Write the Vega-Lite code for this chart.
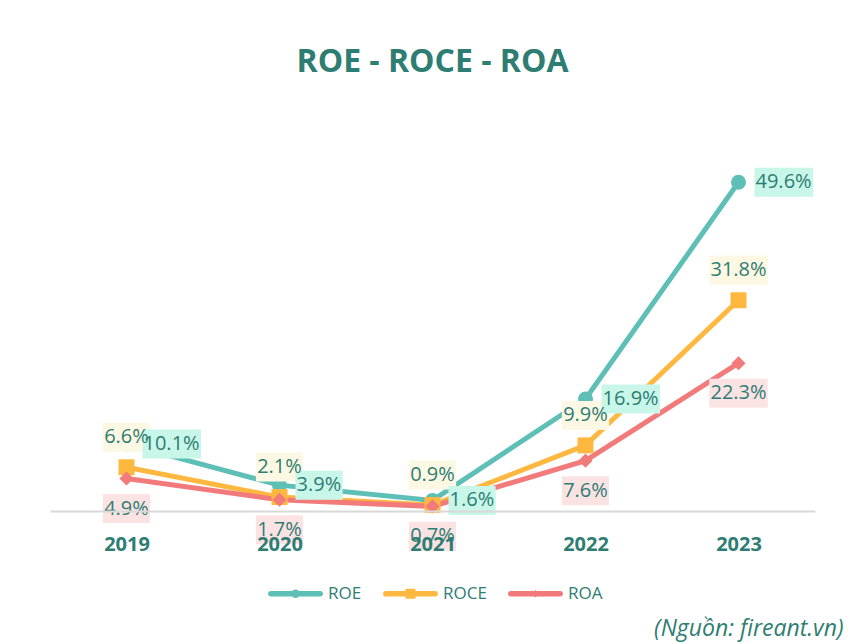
{
  "$schema": "https://vega.github.io/schema/vega-lite/v6.json",
  "width": 765,
  "height": 391,
  "autosize": "none",
  "padding": {"left": 50, "top": 120, "right": 35, "bottom": 133},
  "background": "#ffffff",
  "title": {
    "text": "ROE - ROCE - ROA",
    "font": "Open Sans",
    "fontSize": 32,
    "fontWeight": "bold",
    "color": "#2E7D73",
    "anchor": "middle",
    "baseline": "alphabetic",
    "offset": 16
  },
  "data": {
    "values": [
      {"year": "2019", "series": "ROCE", "value": 6.6},
      {"year": "2020", "series": "ROCE", "value": 2.1},
      {"year": "2021", "series": "ROCE", "value": 0.9},
      {"year": "2022", "series": "ROCE", "value": 9.9},
      {"year": "2023", "series": "ROCE", "value": 31.8},
      {"year": "2019", "series": "ROA", "value": 4.9},
      {"year": "2020", "series": "ROA", "value": 1.7},
      {"year": "2021", "series": "ROA", "value": 0.7},
      {"year": "2022", "series": "ROA", "value": 7.6},
      {"year": "2023", "series": "ROA", "value": 22.3},
      {"year": "2019", "series": "ROE", "value": 10.1},
      {"year": "2020", "series": "ROE", "value": 3.9},
      {"year": "2021", "series": "ROE", "value": 1.6},
      {"year": "2022", "series": "ROE", "value": 16.9},
      {"year": "2023", "series": "ROE", "value": 49.6}
    ]
  },
  "transform": [
    {"calculate": "format(datum.value, '.1f') + '%'", "as": "label"}
  ],
  "encoding": {
    "x": {
      "field": "year",
      "type": "ordinal",
      "scale": {"type": "point", "padding": 0.5},
      "axis": {
        "zindex": 1,
        "labelFont": "Open Sans",
        "labelFontWeight": "bold",
        "labelFontSize": 20,
        "labelColor": "#2E7D73",
        "labelAngle": 0,
        "labelBaseline": "alphabetic",
        "labelPadding": 39,
        "ticks": false,
        "tickSize": 0,
        "grid": false,
        "domainColor": "#D9D9D9",
        "domainWidth": 2,
        "title": "(Nguồn: fireant.vn)",
        "titleFont": "Open Sans",
        "titleFontStyle": "italic",
        "titleFontWeight": "normal",
        "titleFontSize": 23,
        "titleColor": "#2E7D73",
        "titleAlign": "right",
        "titleBaseline": "alphabetic",
        "titleX": 793,
        "titleY": 124
      }
    },
    "y": {
      "field": "value",
      "type": "quantitative",
      "scale": {"domain": [0, 59], "nice": false, "zero": true},
      "axis": null
    }
  },
  "layer": [
    {
      "mark": {"type": "line", "strokeWidth": 5},
      "encoding": {
        "color": {
          "field": "series",
          "type": "nominal",
          "scale": {"domain": ["ROE", "ROCE", "ROA"], "range": ["#5DBFB5", "#FFB83F", "#F27A7A"]},
          "legend": {
            "orient": "none",
            "legendX": 218,
            "legendY": 446,
            "direction": "horizontal",
            "title": null,
            "padding": 0,
            "symbolSize": 3025,
            "labelFont": "Open Sans",
            "labelFontSize": 17,
            "labelColor": "#2E7D73",
            "labelOffset": 5,
            "columnPadding": 21,
            "encode": {
              "symbols": {
                "update": {
                  "shape": {"signal": "datum.value === 'ROE' ? 'M-0.9,-0.1H0.9V0.1H-0.9Z M-1,0A0.1,0.1 0 1,1 -0.8,0A0.1,0.1 0 1,1 -1,0Z M0.8,0A0.1,0.1 0 1,1 1,0A0.1,0.1 0 1,1 0.8,0Z M-0.155,0A0.155,0.155 0 1,1 0.155,0A0.155,0.155 0 1,1 -0.155,0Z' : datum.value === 'ROCE' ? 'M-0.9,-0.1H0.9V0.1H-0.9Z M-1,0A0.1,0.1 0 1,1 -0.8,0A0.1,0.1 0 1,1 -1,0Z M0.8,0A0.1,0.1 0 1,1 1,0A0.1,0.1 0 1,1 0.8,0Z M-0.18,-0.18H0.18V0.18H-0.18Z' : 'M-0.9,-0.1H0.9V0.1H-0.9Z M-1,0A0.1,0.1 0 1,1 -0.8,0A0.1,0.1 0 1,1 -1,0Z M0.8,0A0.1,0.1 0 1,1 1,0A0.1,0.1 0 1,1 0.8,0Z M0,-0.14L0.14,0L0,0.14L-0.14,0Z'"},
                  "size": {"value": 3025},
                  "fill": {"scale": "color", "field": "value"},
                  "stroke": {"value": "transparent"},
                  "strokeWidth": {"value": 0},
                  "opacity": {"value": 1}
                }
              }
            }
          }
        }
      }
    },
    {
      "transform": [{"filter": "datum.series === 'ROE'"}],
      "mark": {"type": "point", "filled": true, "opacity": 1, "shape": "circle", "size": 225},
      "encoding": {"color": {"field": "series", "type": "nominal"}}
    },
    {
      "transform": [{"filter": "datum.series === 'ROCE'"}],
      "mark": {"type": "point", "filled": true, "opacity": 1, "shape": "square", "size": 256},
      "encoding": {"color": {"field": "series", "type": "nominal"}}
    },
    {
      "transform": [{"filter": "datum.series === 'ROA'"}],
      "mark": {"type": "point", "filled": true, "opacity": 1, "shape": "diamond", "size": 200},
      "encoding": {"color": {"field": "series", "type": "nominal"}}
    },
    {
      "mark": {
        "type": "rect",
        "height": 29,
        "width": {"expr": "11.3*length(datum.label)+2"},
        "xOffset": {"expr": "datum.series === 'ROE' ? 16 + (11.3*length(datum.label)+2)/2 : 0"},
        "yOffset": {"expr": "datum.series === 'ROCE' ? -30 : (datum.series === 'ROA' ? 30 : 0)"}
      },
      "encoding": {
        "fill": {
          "field": "series",
          "type": "nominal",
          "scale": {"domain": ["ROE", "ROCE", "ROA"], "range": ["#C8F7EA", "#FDF8E3", "#FCE3E3"]},
          "legend": null
        }
      }
    },
    {
      "mark": {
        "type": "text",
        "font": "Open Sans",
        "fontSize": 20,
        "fill": "#2E7D73",
        "baseline": "middle",
        "align": {"expr": "datum.series === 'ROE' ? 'left' : 'center'"},
        "dx": {"expr": "datum.series === 'ROE' ? 17 : 0"},
        "dy": {"expr": "datum.series === 'ROCE' ? -30 : (datum.series === 'ROA' ? 30 : 0)"}
      },
      "encoding": {
        "text": {"field": "label", "type": "nominal"}
      }
    }
  ],
  "config": {
    "view": {"stroke": null}
  }
}
